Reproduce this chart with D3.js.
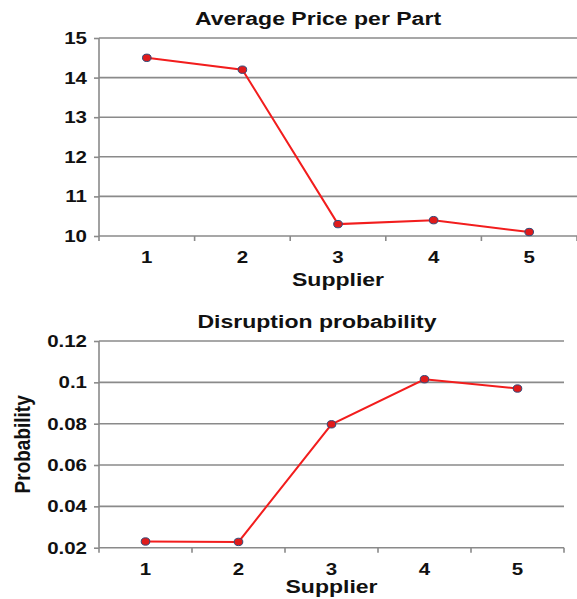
<!DOCTYPE html>
<html>
<head>
<meta charset="utf-8">
<script src="https://cdn.jsdelivr.net/npm/d3@7"></script>
<style>
  html, body { margin: 0; padding: 0; background: #fff; }
  svg { display: block; }
  text { font-family: "Liberation Sans", Arial, sans-serif; font-weight: bold; fill: #111; }
</style>
</head>
<body>
<svg id="chart" width="577" height="599"></svg>
<script>
// Supplier categories shared by both panels
const suppliers = ["1", "2", "3", "4", "5"];

// Panel 1: average price per part
const priceValues = [14.5, 14.2, 10.3, 10.4, 10.1];
const priceTicks = [10, 11, 12, 13, 14, 15];

// Panel 2: disruption probability
const probValues = [0.023, 0.0228, 0.0797, 0.1015, 0.097];
const probTicks = [0.02, 0.04, 0.06, 0.08, 0.1, 0.12];

const svg = d3.select("#chart");
const SX = 1.28; // horizontal stretch of the lettering

function label(g, x, y, str, size, anchor, rotate) {
  return g.append("text")
    .attr("transform", `translate(${x},${y})` + (rotate ? ` rotate(${rotate})` : "") + ` scale(${rotate ? 1 : SX},${rotate ? SX * 0.9 : 1})`)
    .attr("text-anchor", anchor)
    .style("font-size", size + "px")
    .text(str);
}

function panel(cfg) {
  const g = svg.append("g");
  const x = d3.scaleBand().domain(suppliers).range([cfg.left, cfg.right]).padding(0);
  const y = d3.scaleLinear().domain(cfg.domain).range([cfg.bottom, cfg.top]);
  const cx = d => x(d) + x.bandwidth() / 2;

  // horizontal gridlines
  g.selectAll("line.grid").data(cfg.ticks.slice(1)).join("line")
    .attr("x1", cfg.left).attr("x2", cfg.right)
    .attr("y1", d => y(d)).attr("y2", d => y(d))
    .attr("stroke", "#8a8a8a").attr("stroke-width", 1.6);

  // y axis with ticks
  const yAxis = g.append("g").attr("transform", `translate(${cfg.left},0)`)
    .call(d3.axisLeft(y).tickValues(cfg.ticks).tickSize(5).tickFormat(""));
  yAxis.select(".domain").attr("stroke", "#8a8a8a").attr("stroke-width", 1.6)
    .attr("d", `M0,${cfg.top}V${cfg.bottom}`);
  yAxis.selectAll(".tick line").attr("stroke", "#8a8a8a").attr("stroke-width", 1.6);

  cfg.ticks.forEach(v => {
    label(g, cfg.left - 12, y(v) + 6, cfg.fmt(v), 16, "end");
  });

  // x axis: baseline plus category boundary ticks
  g.append("line")
    .attr("x1", cfg.left).attr("x2", cfg.right)
    .attr("y1", y(cfg.domain[0])).attr("y2", y(cfg.domain[0]))
    .attr("stroke", "#8a8a8a").attr("stroke-width", 1.6);
  const bounds = suppliers.map(s => x(s)).concat([cfg.right]);
  g.selectAll("line.xt").data(bounds).join("line")
    .attr("x1", d => d).attr("x2", d => d)
    .attr("y1", y(cfg.domain[0])).attr("y2", y(cfg.domain[0]) + 5)
    .attr("stroke", "#8a8a8a").attr("stroke-width", 1.6);
  suppliers.forEach(s => label(g, cx(s), y(cfg.domain[0]) + 27, s, 16, "middle"));

  // titles
  label(g, cfg.titleX, cfg.titleY, cfg.title, 18, "middle");
  label(g, (cfg.left + cfg.right) / 2, cfg.xTitleY, "Supplier", 18, "middle");
  if (cfg.yTitle) label(g, 30, (cfg.top + cfg.bottom) / 2, cfg.yTitle, 19, "middle", -90);

  // series line and markers
  const pts = suppliers.map((s, i) => [cx(s), y(cfg.values[i])]);
  g.append("path").attr("d", d3.line()(pts))
    .attr("fill", "none").attr("stroke", "#f21d1d").attr("stroke-width", 2);
  g.selectAll("ellipse").data(pts).join("ellipse")
    .attr("cx", d => d[0]).attr("cy", d => d[1])
    .attr("rx", 4.3).attr("ry", 3.7)
    .attr("fill", "#e01b1b").attr("stroke", "#2d4a7a").attr("stroke-width", 1);
}

panel({
  left: 99, right: 577, top: 38, bottom: 236,
  domain: [10, 15], ticks: priceTicks, values: priceValues,
  fmt: d3.format("d"),
  title: "Average Price per Part", titleX: 318, titleY: 25, xTitleY: 286
});

panel({
  left: 99, right: 564, top: 341, bottom: 547.7,
  domain: [0.02, 0.12], ticks: probTicks, values: probValues,
  fmt: v => String(+v.toFixed(2)),
  title: "Disruption probability", titleX: 317, titleY: 328, xTitleY: 593,
  yTitle: "Probability"
});
</script>
</body>
</html>
